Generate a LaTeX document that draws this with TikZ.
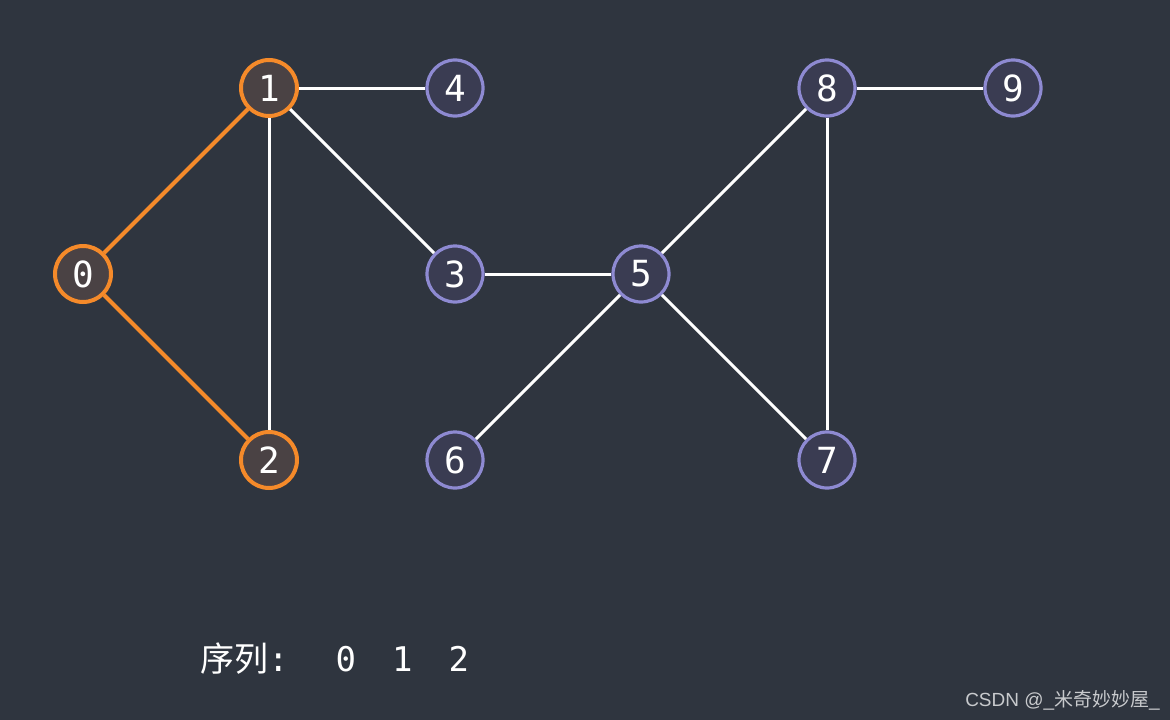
\documentclass[tikz,border=0pt]{standalone}
\usepackage{fontspec}
\setmainfont{Liberation Sans}
\newfontfamily\cjk{Noto Sans CJK SC}
\newfontfamily\monof{DejaVu Sans Mono}
\definecolor{bg}{HTML}{2F353F}
\definecolor{vfill}{HTML}{3A3C52}
\definecolor{vline}{HTML}{8E8AD2}
\definecolor{ofill}{HTML}{4A4244}
\definecolor{oline}{HTML}{F58A2A}
\definecolor{wm}{HTML}{C8CACD}
\tikzset{
  vert/.style={circle, minimum size=56pt, inner sep=0pt, line width=3.2pt, draw=vline, fill=vfill, text=white, font=\monof\fontsize{36}{36}\selectfont},
  vis/.style={vert, draw=oline, fill=ofill, line width=4pt},
  edge/.style={white, line width=3pt},
  oedge/.style={oline, line width=4pt},
}
\begin{document}
\begin{tikzpicture}[x=1pt,y=-1pt]
\fill[bg] (0,0) rectangle (1170,720);
\useasboundingbox (0,0) rectangle (1170,720);
\node[vis]  (n0) at (83,274)  {0};
\node[vis]  (n1) at (269,88)  {1};
\node[vis]  (n2) at (269,460) {2};
\node[vert] (n3) at (455,274) {3};
\node[vert] (n4) at (455,88)  {4};
\node[vert] (n5) at (641,274) {5};
\node[vert] (n6) at (455,460) {6};
\node[vert] (n7) at (827,460) {7};
\node[vert] (n8) at (827,88)  {8};
\node[vert] (n9) at (1013,88) {9};
\draw[edge] (n1) -- (n4);
\draw[edge] (n1) -- (n3);
\draw[edge] (n1) -- (n2);
\draw[edge] (n3) -- (n5);
\draw[edge] (n5) -- (n6);
\draw[edge] (n5) -- (n8);
\draw[edge] (n5) -- (n7);
\draw[edge] (n8) -- (n7);
\draw[edge] (n8) -- (n9);
\draw[oedge] (n0) -- (n1);
\draw[oedge] (n0) -- (n2);
\node[anchor=base west, text=white, inner sep=0pt, font=\fontsize{34}{34}\selectfont] (seq) at (200,671)
  {{\cjk 序列}{\monof:\hspace{47pt}0\hspace{36pt}1\hspace{36pt}2}};
\node[anchor=base east, text=wm, inner sep=0pt, font=\fontsize{19}{19}\selectfont] (wmk) at (1160,706)
  {CSDN @\_{\cjk 米奇妙妙屋}\_};
\end{tikzpicture}
\end{document}
